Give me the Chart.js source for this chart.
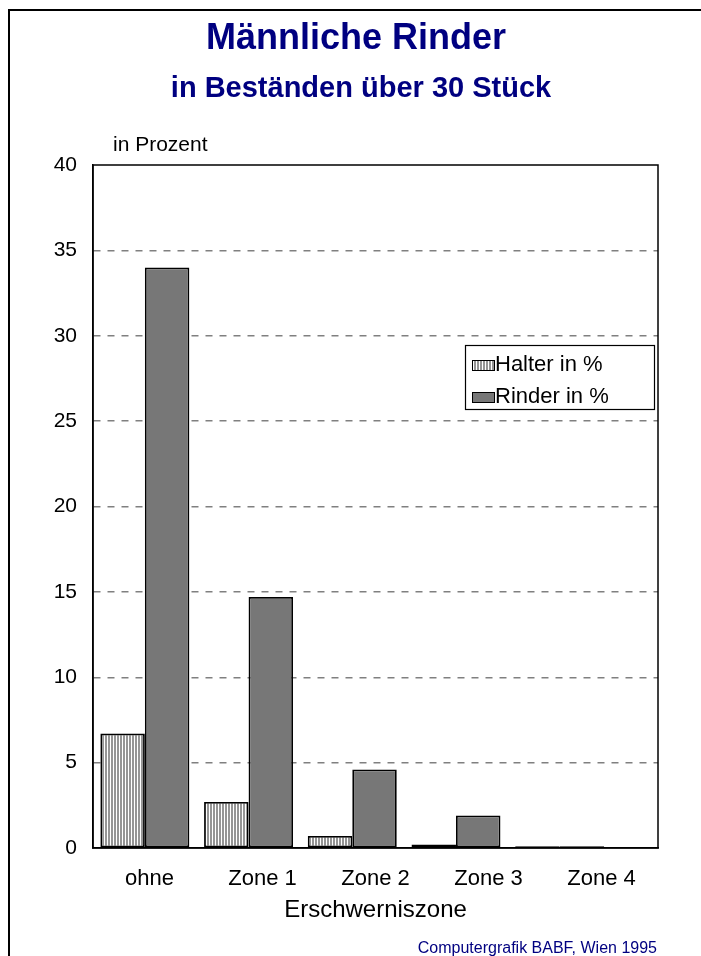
<!DOCTYPE html>
<html>
<head>
<meta charset="utf-8">
<script src="https://cdn.jsdelivr.net/npm/chart.js@4/dist/chart.umd.min.js"></script>
<style>
  html, body { margin: 0; padding: 0; background: #fff; }
  canvas { display: block; }
</style>
</head>
<body>
<canvas id="c" width="701" height="956"></canvas>
<script>
// Anteil männlicher Rinder in Beständen über 30 Stück, nach Erschwerniszone
const zones = ['ohne', 'Zone 1', 'Zone 2', 'Zone 3', 'Zone 4'];
const halterPct = [6.7, 2.7, 0.7, 0.2, 0.1];
const rinderPct = [34.0, 14.7, 4.6, 1.9, 0.1];
const seriesNames = ['Halter in %', 'Rinder in %'];
const yTicks = [0, 5, 10, 15, 20, 25, 30, 35, 40];
const zoneIndex = [0, 1, 2, 3, 4];

const FONT = "'Liberation Sans', Arial, Helvetica, sans-serif";
const NAVY = '#000080';

// vertical hatch fill for the "Halter" series
function hatch() {
  const p = document.createElement('canvas');
  p.width = 3; p.height = 4;
  const g = p.getContext('2d');
  g.fillStyle = '#ffffff'; g.fillRect(0, 0, 3, 4);
  g.fillStyle = '#959595'; g.fillRect(0, 0, 2, 4);
  return g.createPattern(p, 'repeat');
}
const ctx = document.getElementById('c').getContext('2d');
const hatchFill = hatch();
const solidFill = '#777777';

const toPoints = vals => vals.map((v, i) => ({ x: zoneIndex[i], y: v }));

// headings, frame, plot box, unit caption, legend and source line
const decor = {
  id: 'decor',
  afterDraw(chart) {
    const c = chart.ctx;
    const a = chart.chartArea;
    c.save();
    c.textBaseline = 'alphabetic';
    // headings
    c.fillStyle = NAVY; c.textAlign = 'center';
    c.font = 'bold 36px ' + FONT;
    c.fillText('Männliche Rinder', 356, 49);
    c.font = 'bold 29px ' + FONT;
    c.fillText('in Beständen über 30 Stück', 361, 97);
    // page frame (top and left edges)
    c.strokeStyle = '#000'; c.lineWidth = 2;
    c.beginPath();
    c.moveTo(9, 956); c.lineTo(9, 10); c.lineTo(701, 10);
    c.stroke();
    // plot box
    c.lineWidth = 1.5;
    c.strokeRect(a.left, a.top, a.right - a.left, a.bottom - a.top);
    // unit caption
    c.fillStyle = '#000';
    c.font = '21px ' + FONT;
    c.textAlign = 'left';
    c.fillText('in Prozent', 113, 151);
    // legend
    const lx = 465, ly = 345, lw = 189, lh = 64;
    c.fillStyle = '#fff';
    c.fillRect(lx, ly, lw, lh);
    c.lineWidth = 1.2; c.strokeStyle = '#000';
    c.strokeRect(lx + 0.5, ly + 0.5, lw, lh);
    chart.data.datasets.forEach((ds, i) => {
      const base = ly + 26 + i * 32;
      c.fillStyle = ds.backgroundColor;
      c.fillRect(lx + 7, base - 11, 22, 10);
      c.strokeStyle = '#000'; c.lineWidth = 1;
      c.strokeRect(lx + 7.5, base - 10.5, 22, 10);
      c.fillStyle = '#000';
      c.font = '22px ' + FONT;
      c.textAlign = 'left';
      c.fillText(ds.label, lx + 30, base);
    });
    // source line
    c.fillStyle = NAVY;
    c.font = '16px ' + FONT;
    c.textAlign = 'right';
    c.fillText('Computergrafik BABF, Wien 1995', 657, 953);
    c.restore();
  }
};

new Chart(ctx, {
  type: 'bar',
  data: {
    labels: zones,
    datasets: [
      { label: seriesNames[0], data: toPoints(halterPct), xAxisID: 'xb',
        backgroundColor: hatchFill, borderColor: '#000', borderWidth: 1.8, borderSkipped: false },
      { label: seriesNames[1], data: toPoints(rinderPct), xAxisID: 'xb',
        backgroundColor: solidFill, borderColor: '#000', borderWidth: 1.8, borderSkipped: false }
    ]
  },
  options: {
    responsive: false,
    animation: false,
    devicePixelRatio: 1,
    layout: { padding: { left: 0, right: 43, top: 165, bottom: 0 } },
    datasets: { bar: { categoryPercentage: 0.858, barPercentage: 1.0 } },
    plugins: {
      legend: { display: false },
      tooltip: { enabled: false },
      title: { display: false }
    },
    scales: {
      // zone labels, spread evenly across the plot width
      x: {
        type: 'category',
        position: 'bottom',
        grid: { display: false },
        border: { display: true, color: '#000', width: 1.5 },
        ticks: { color: '#000', font: { family: FONT, size: 22, lineHeight: 1.2 }, padding: 10 },
        title: { display: true, text: 'Erschwerniszone', color: '#000',
                 font: { family: FONT, size: 24, lineHeight: 1.2 },
                 padding: { top: 0, bottom: 31 } },
        afterFit(s) { s.height = 108; }
      },
      // positions of the bar groups
      xb: {
        type: 'linear',
        position: 'bottom',
        display: false,
        offset: false,
        grid: { offset: false },
        min: -0.5,
        max: 4.948,
        afterBuildTicks(s) { s.ticks = zoneIndex.map(v => ({ value: v })); }
      },
      y: {
        min: 0, max: 40,
        afterBuildTicks(s) { s.ticks = yTicks.map(v => ({ value: v })); },
        grid: {
          drawTicks: false, lineWidth: 1.5,
          color: c => (c.tick && (c.tick.value === 0 || c.tick.value === 40)) ? 'rgba(0,0,0,0)' : '#808080'
        },
        border: { display: true, color: '#000', width: 1.5, dash: [7, 7] },
        ticks: { color: '#000', font: { family: FONT, size: 21 }, padding: 16 },
        afterFit(s) { s.width = 93; }
      }
    }
  },
  plugins: [decor]
});
</script>
</body>
</html>
